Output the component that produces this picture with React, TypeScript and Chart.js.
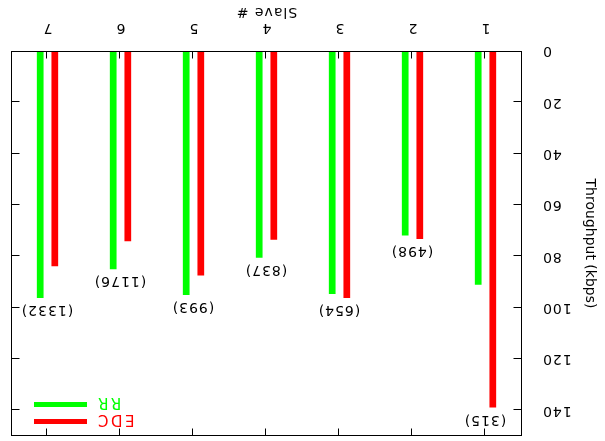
import React, { useEffect, useRef } from "react";
import { Chart, registerables } from "chart.js";

Chart.register(...registerables);

// Per-slave throughput (kbps) for the two schedulers
const SLAVES = ["1", "2", "3", "4", "5", "6", "7"];
const EDC = [138.9, 73.2, 96.2, 73.5, 87.5, 74.1, 83.9];
const RR = [91.1, 71.9, 94.7, 80.6, 95.1, 85.0, 96.2];
// Annotation printed above each slave's bar pair
const COUNTS = ["(315)", "(498)", "(654)", "(837)", "(993)", "(1176)", "(1332)"];
const Y_TICKS = [0, 20, 40, 60, 80, 100, 120, 140];
const Y_MAX = 150;

const FONT = "'DejaVu Sans', Verdana, sans-serif";
const RED = "#ff0000";
const GREEN = "#00ff00";
const TEXT_SPACING = 1;
const KEY_SPACING = 2.5;

// Slightly opened lettering for tick labels and the x title
const spacingPlugin = {
  id: "spacing",
  afterLayout(chart: any) {
    const s = chart.scales.y;
    if (s && !s.__plain) {
      const orig = s.drawTitle.bind(s);
      s.drawTitle = function () {
        const ctx = this.ctx;
        const prev = ctx.letterSpacing;
        ctx.letterSpacing = "0px";
        orig();
        ctx.letterSpacing = prev;
      };
      s.__plain = true;
    }
  },
  beforeDraw(chart: any) {
    chart.ctx.letterSpacing = `${TEXT_SPACING}px`;
  },
  afterDraw(chart: any) {
    chart.ctx.letterSpacing = "0px";
  },
};

// Gnuplot-style box frame with inward ticks, count labels and key
const framePlugin = {
  id: "frame",
  afterDatasetsDraw(chart: any) {
    const { ctx, chartArea: a, scales } = chart;
    const x = scales.x;
    const y = scales.y;
    const L = Math.round(a.left) + 0.5;
    const R = Math.round(a.right) - 0.5;
    const T = Math.round(a.top) + 0.5;
    const B = Math.round(a.bottom) - 0.5;
    ctx.save();
    ctx.strokeStyle = "#000";
    ctx.lineWidth = 1;
    ctx.strokeRect(L, T, R - L, B - T);
    ctx.beginPath();
    for (const v of Y_TICKS) {
      const py = Math.min(B, Math.max(T, Math.round(y.getPixelForValue(v)) + 0.5));
      ctx.moveTo(L, py);
      ctx.lineTo(L + 8, py);
      ctx.moveTo(R, py);
      ctx.lineTo(R - 8, py);
    }
    SLAVES.forEach((_, i) => {
      const px = Math.round(x.getPixelForValue(i)) + 0.5;
      ctx.moveTo(px, B);
      ctx.lineTo(px, B - 7);
      ctx.moveTo(px, T);
      ctx.lineTo(px, T + 7);
    });
    ctx.stroke();

    ctx.font = `14px ${FONT}`;
    ctx.letterSpacing = `${TEXT_SPACING}px`;
    ctx.fillStyle = "#000";
    ctx.textAlign = "center";
    ctx.textBaseline = "middle";
    COUNTS.forEach((t, i) => {
      const top = Math.max(EDC[i], RR[i]);
      ctx.fillText(t, x.getPixelForValue(i) + TEXT_SPACING / 2, y.getPixelForValue(top + 4.6));
    });

    // key: text right-aligned, followed by a line sample
    const keys = [
      { label: "EDC", color: RED, dy: 12 },
      { label: "RR", color: GREEN, dy: 29 },
    ];
    ctx.font = `15px ${FONT}`;
    ctx.letterSpacing = `${KEY_SPACING}px`;
    ctx.textAlign = "right";
    ctx.textBaseline = "alphabetic";
    for (const k of keys) {
      const ly = a.top + k.dy;
      ctx.fillStyle = k.color;
      ctx.fillRect(a.right - 76, ly, 53, 5);
      ctx.fillText(k.label, a.right - 87 + KEY_SPACING, ly + 9);
    }
    ctx.restore();
  },
};

export default function App() {
  const canvasRef = useRef<HTMLCanvasElement | null>(null);

  useEffect(() => {
    const canvas = canvasRef.current;
    if (!canvas) return;
    let chart: Chart | null = null;
    let cancelled = false;

    const build = () => {
      if (cancelled) return;
      chart = new Chart(canvas, {
        type: "bar",
        data: {
          labels: SLAVES,
          datasets: [
            { label: "EDC", data: EDC, backgroundColor: RED, borderWidth: 0 },
            { label: "RR", data: RR, backgroundColor: GREEN, borderWidth: 0 },
          ],
        },
        options: {
          responsive: false,
          animation: false,
          devicePixelRatio: 1,
          datasets: { bar: { categoryPercentage: 0.4, barPercentage: 0.46 } },
          layout: { padding: { top: 5, right: 11, bottom: 0, left: 0 } },
          plugins: {
            legend: { display: false },
            tooltip: { enabled: false },
          },
          scales: {
            x: {
              type: "category",
              grid: { display: false },
              border: { display: false },
              ticks: { color: "#000", font: { family: FONT, size: 14 }, padding: 7, maxRotation: 0 },
              title: {
                display: true,
                text: "Slave #",
                color: "#000",
                font: { family: FONT, size: 14 },
                padding: { top: 0, bottom: 3 },
              },
              afterFit(scale: any) {
                scale.height = 51;
                scale.paddingLeft = 0;
                scale.paddingRight = 0;
              },
            },
            y: {
              type: "linear",
              min: 0,
              max: Y_MAX,
              grid: { display: false },
              border: { display: false },
              ticks: { color: "#000", font: { family: FONT, size: 14 }, padding: 12 },
              afterBuildTicks(scale: any) {
                scale.ticks = Y_TICKS.map((v) => ({ value: v }));
              },
              title: {
                display: true,
                text: "Throughput (kbps)",
                color: "#000",
                font: { family: FONT, size: 14 },
                padding: { top: 7, bottom: 0 },
              },
              afterFit(scale: any) {
                scale.width = 83;
                scale.paddingTop = 0;
                scale.paddingBottom = 0;
              },
            },
          },
        },
        plugins: [spacingPlugin, framePlugin],
      });
    };

    const fonts = (document as any).fonts;
    if (fonts && fonts.load) {
      fonts.load("14px 'DejaVu Sans'").then(build, build);
    } else {
      build();
    }
    return () => {
      cancelled = true;
      if (chart) chart.destroy();
    };
  }, []);

  return (
    <div
      style={{
        position: "fixed",
        left: 0,
        top: 0,
        width: 605,
        height: 441,
        background: "#fff",
        transform: "rotate(180deg)",
      }}
    >
      <canvas ref={canvasRef} width={605} height={441} style={{ display: "block" }} />
    </div>
  );
}
